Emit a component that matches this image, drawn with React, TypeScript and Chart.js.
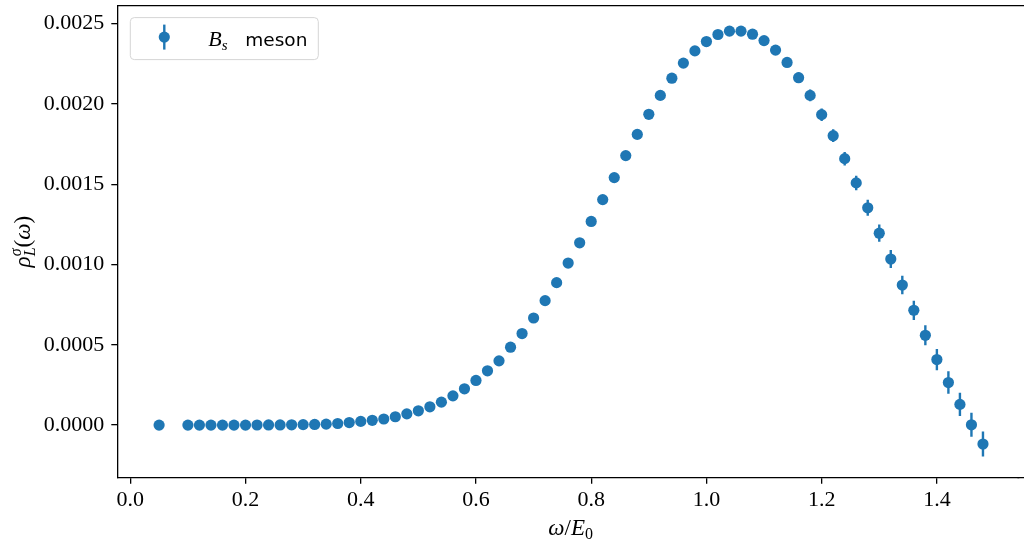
import React, { useEffect, useRef } from "react";
import { Chart, registerables } from "chart.js";

Chart.register(...registerables);

const omega: number[] = [
  0.05, 0.10, 0.12, 0.14, 0.16, 0.18, 0.20, 0.22, 0.24, 0.26, 0.28, 0.30, 0.32, 0.34, 0.36, 0.38,
  0.40, 0.42, 0.44, 0.46, 0.48, 0.50, 0.52, 0.54, 0.56, 0.58, 0.60, 0.62, 0.64, 0.66, 0.68, 0.70,
  0.72, 0.74, 0.76, 0.78, 0.80, 0.82, 0.84, 0.86, 0.88, 0.90, 0.92, 0.94, 0.96, 0.98, 1.00, 1.02,
  1.04, 1.06, 1.08, 1.10, 1.12, 1.14, 1.16, 1.18, 1.20, 1.22, 1.24, 1.26, 1.28, 1.30, 1.32, 1.34,
  1.36, 1.38, 1.40, 1.42, 1.44, 1.46, 1.48,
];

const rho: number[] = [
  0, 0, 0, 0, 0, 0, 0, 0.0000005, 0.000001, 0.000001, 0.000002, 0.000003, 0.000004, 0.000006, 0.00001, 0.000016,
  0.000023, 0.00003, 0.000038, 0.000052, 0.00007, 0.000089, 0.000114, 0.000143, 0.000182, 0.000226, 0.000278, 0.000338, 0.0004, 0.000485, 0.00057, 0.000667,
  0.000775, 0.000887, 0.001009, 0.001135, 0.001268, 0.001404, 0.001541, 0.001678, 0.00181, 0.001935, 0.002053, 0.00216, 0.002254, 0.00233, 0.002388, 0.002432,
  0.002453, 0.002453, 0.002434, 0.002394, 0.002335, 0.002258, 0.002163, 0.002053, 0.001933, 0.001802, 0.001659, 0.001508, 0.001353, 0.001195, 0.001034, 0.000872,
  0.000715, 0.000559, 0.000408, 0.000265, 0.000129, 0.000002, -0.000118,
];

const rhoErr: number[] = [
  0.000001, 0.000001, 0.000001, 0.000001, 0.000001, 0.000001, 0.000001, 0.000001, 0.000001, 0.000001, 0.000001, 0.000001, 0.000001, 0.000001, 0.000001, 0.000001,
  0.000001, 0.000002, 0.000002, 0.000003, 0.000003, 0.000004, 0.000004, 0.000004, 0.000005, 0.000005, 0.000005, 0.000006, 0.000006, 0.000007, 0.000008, 0.000009,
  0.00001, 0.00001, 0.000011, 0.000011, 0.000012, 0.000013, 0.000014, 0.000015, 0.000016, 0.000016, 0.000017, 0.000017, 0.000018, 0.000018, 0.000018, 0.00002,
  0.000021, 0.000022, 0.000023, 0.000024, 0.000026, 0.000029, 0.000032, 0.000036, 0.000039, 0.00004, 0.000042, 0.000045, 0.00005, 0.000054, 0.000056, 0.000058,
  0.00006, 0.000062, 0.000066, 0.00007, 0.000072, 0.000075, 0.000078,
];

const xTickValues: number[] = [0.0, 0.2, 0.4, 0.6, 0.8, 1.0, 1.2, 1.4];
const yTickValues: number[] = [0.0, 0.0005, 0.001, 0.0015, 0.002, 0.0025];

const seriesLabel = "meson";
const BLUE = "#1f77b4";
const SERIF = "'Liberation Serif', 'DejaVu Serif', serif";

type Seg = { t: string; font: string; dy: number; stackWith?: boolean };

function segWidth(ctx: CanvasRenderingContext2D, segs: Seg[]): number {
  let w = 0;
  let lastW = 0;
  segs.forEach((s) => {
    ctx.font = s.font;
    const sw = ctx.measureText(s.t).width;
    if (s.stackWith) {
      w += Math.max(0, sw - lastW);
      lastW = Math.max(lastW, sw);
    } else {
      w += sw;
      lastW = sw;
    }
  });
  return w;
}

function drawSegs(ctx: CanvasRenderingContext2D, segs: Seg[], x: number, y: number) {
  let cx = x;
  let prevStart = x;
  let lastW = 0;
  segs.forEach((s) => {
    ctx.font = s.font;
    const sw = ctx.measureText(s.t).width;
    if (s.stackWith) {
      ctx.fillText(s.t, prevStart, y + s.dy);
      const end = prevStart + Math.max(lastW, sw);
      cx = Math.max(cx, end);
      lastW = Math.max(lastW, sw);
    } else {
      prevStart = cx;
      ctx.fillText(s.t, cx, y + s.dy);
      cx += sw;
      lastW = sw;
    }
  });
}

const decorPlugin = {
  id: "decor",
  beforeDatasetsDraw(chart: any) {
    const ctx: CanvasRenderingContext2D = chart.ctx;
    const xs = chart.scales.x;
    const ys = chart.scales.y;
    const a = chart.chartArea;
    ctx.save();
    ctx.beginPath();
    ctx.rect(a.left, a.top, a.right - a.left, a.bottom - a.top);
    ctx.clip();
    ctx.strokeStyle = BLUE;
    ctx.lineWidth = 2.4;
    for (let i = 0; i < omega.length; i++) {
      const px = xs.getPixelForValue(omega[i]);
      const y1 = ys.getPixelForValue(rho[i] - rhoErr[i]);
      const y2 = ys.getPixelForValue(rho[i] + rhoErr[i]);
      ctx.beginPath();
      ctx.moveTo(px, y1);
      ctx.lineTo(px, y2);
      ctx.stroke();
    }
    ctx.restore();
  },
  afterDraw(chart: any) {
    const ctx: CanvasRenderingContext2D = chart.ctx;
    const a = chart.chartArea;
    ctx.save();
    // top spine and bottom spine continued to the canvas edge (axes run past the picture)
    ctx.strokeStyle = "#000";
    ctx.lineWidth = 1.3;
    ctx.beginPath();
    ctx.moveTo(a.left, a.top);
    ctx.lineTo(chart.width, a.top);
    ctx.moveTo(a.right - 1, a.bottom);
    ctx.lineTo(chart.width, a.bottom);
    ctx.stroke();

    // legend
    const lx = a.left + 13;
    const ly = a.top + 12;
    const lw = 188;
    const lh = 42;
    ctx.beginPath();
    (ctx as any).roundRect(lx, ly, lw, lh, 4);
    ctx.fillStyle = "rgba(255,255,255,0.8)";
    ctx.fill();
    ctx.strokeStyle = "#d5d5d5";
    ctx.lineWidth = 1;
    ctx.stroke();
    const mx = lx + 34;
    const my = ly + lh / 2 - 1.5;
    ctx.strokeStyle = BLUE;
    ctx.lineWidth = 2.4;
    ctx.beginPath();
    ctx.moveTo(mx, my - 12.5);
    ctx.lineTo(mx, my + 12.5);
    ctx.stroke();
    ctx.fillStyle = BLUE;
    ctx.beginPath();
    ctx.arc(mx, my, 5.6, 0, Math.PI * 2);
    ctx.fill();
    ctx.fillStyle = "#000";
    ctx.textBaseline = "alphabetic";
    ctx.textAlign = "left";
    drawSegs(
      ctx,
      [
        { t: "B", font: `italic 22px ${SERIF}`, dy: 0 },
        { t: "s", font: `italic 15px ${SERIF}`, dy: 4 },
      ],
      lx + 78,
      ly + 28
    );
    ctx.font = "18.5px 'DejaVu Sans', sans-serif";
    ctx.fillText(seriesLabel, lx + 115, ly + 28);

    // x axis title (centred on the full axes width, which runs to the canvas edge)
    const xSegs: Seg[] = [
      { t: "ω", font: `italic 23px ${SERIF}`, dy: 0 },
      { t: "/", font: `23px ${SERIF}`, dy: 0 },
      { t: "E", font: `italic 23px ${SERIF}`, dy: 0 },
      { t: "0", font: `16px ${SERIF}`, dy: 4 },
    ];
    const xw = segWidth(ctx, xSegs);
    drawSegs(ctx, xSegs, (a.left + chart.width) / 2 - xw / 2, 535);

    // y axis title
    const ySegs: Seg[] = [
      { t: "ρ", font: `italic 23px ${SERIF}`, dy: 0 },
      { t: "σ", font: `italic 16px ${SERIF}`, dy: -9 },
      { t: "L", font: `italic 16px ${SERIF}`, dy: 5, stackWith: true },
      { t: "(", font: `23px ${SERIF}`, dy: 0 },
      { t: "ω", font: `italic 23px ${SERIF}`, dy: 0 },
      { t: ")", font: `23px ${SERIF}`, dy: 0 },
    ];
    const yw = segWidth(ctx, ySegs);
    ctx.translate(30, (a.top + a.bottom) / 2);
    ctx.rotate(-Math.PI / 2);
    drawSegs(ctx, ySegs, -yw / 2, 0);
    ctx.restore();
  },
};

function zeroPad(s: any) {
  s.paddingTop = 0;
  s.paddingBottom = 0;
  s.paddingLeft = 0;
  s.paddingRight = 0;
}

export default function App() {
  const ref = useRef<HTMLCanvasElement | null>(null);
  useEffect(() => {
    document.body.style.margin = "0";
    const canvas = ref.current;
    if (!canvas) return;
    const points = omega.map((x, i) => ({ x, y: rho[i] }));
    const tickFont = { family: SERIF, size: 22 };
    const chart = new Chart(canvas, {
      type: "scatter",
      data: {
        datasets: [
          {
            label: seriesLabel,
            data: points,
            pointRadius: 5.6,
            pointHoverRadius: 5.6,
            pointBackgroundColor: BLUE,
            pointBorderWidth: 0,
            borderColor: BLUE,
            showLine: false,
          },
        ],
      },
      options: {
        responsive: false,
        animation: false,
        devicePixelRatio: 1,
        layout: { padding: { top: 4.7, right: 0, left: 0, bottom: 0 } },
        plugins: { legend: { display: false }, tooltip: { enabled: false } },
        scales: {
          x: {
            type: "linear",
            min: -0.02255,
            max: 1.5415,
            afterBuildTicks: (s: any) => {
              s.ticks = xTickValues.map((v) => ({ value: v }));
            },
            afterFit: (s: any) => {
              s.height = 66.3;
              zeroPad(s);
            },
            ticks: {
              callback: (v: any) => Number(v).toFixed(1),
              font: tickFont,
              color: "#000",
              padding: 3,
              maxRotation: 0,
              autoSkip: false,
            },
            grid: { drawOnChartArea: false, drawTicks: true, tickLength: 6, color: "#000", lineWidth: 1.3 },
            border: { display: true, color: "#000", width: 1.3 },
          },
          y: {
            type: "linear",
            min: -0.0003275,
            max: 0.002612,
            afterBuildTicks: (s: any) => {
              s.ticks = yTickValues.map((v) => ({ value: v }));
            },
            afterFit: (s: any) => {
              s.width = 117.3;
              zeroPad(s);
            },
            ticks: {
              callback: (v: any) => Number(v).toFixed(4),
              font: tickFont,
              color: "#000",
              padding: 7,
              autoSkip: false,
            },
            grid: { drawOnChartArea: false, drawTicks: true, tickLength: 6, color: "#000", lineWidth: 1.3 },
            border: { display: true, color: "#000", width: 1.3 },
          },
        },
      },
      plugins: [decorPlugin],
    } as any);
    return () => chart.destroy();
  }, []);
  return <canvas ref={ref} width={1024} height={544} style={{ display: "block" }} />;
}
